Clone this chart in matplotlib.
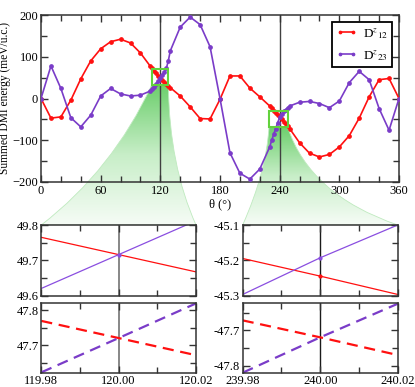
import numpy as np
import matplotlib
matplotlib.use('Agg')
import matplotlib.pyplot as plt
from matplotlib.path import Path
from matplotlib.patches import PathPatch, Rectangle
from matplotlib.colors import LinearSegmentedColormap
from matplotlib.ticker import MultipleLocator, FixedLocator, FormatStrFormatter

plt.rcParams['font.family'] = ['Liberation Serif', 'DejaVu Serif']
plt.rcParams['mathtext.fontset'] = 'stix'
plt.rcParams['font.size'] = 9

# coarse scan, every 10 degrees
theta = [0, 10, 20, 30, 40, 50, 60, 70, 80, 90, 100, 110, 120, 130, 140, 150, 160, 170, 180,
         190, 200, 210, 220, 230, 240, 250, 260, 270, 280, 290, 300, 310, 320, 330, 340, 350, 360]
d12 = [0, -47, -44, -4, 47, 90, 119, 136, 142, 133, 109, 77, 49.7, 26, 6, -20, -48, -49, -2,
       54, 54, 25, 4, -18, -45.2, -72, -106, -131, -140, -134, -116, -89, -47, 4, 45, 48, 0]
d23 = [0, 78, 24, -46, -68, -40, 6, 24, 11, 6, 8, 18, 49.7, 114, 171, 195, 177, 124, 0,
       -130, -179, -193, -169, -116, -45.2, -18, -9, -7, -12, -22, -6, 38, 65, 45, -24, -76, 0]

# fine scan around the two crossings
theta_fine = [112, 114, 116, 118, 122, 124, 126, 128,
              232, 234, 236, 238, 242, 244, 246, 248]
d12_fine = [72, 66, 61, 55, 45, 40, 35, 31,
            -23, -29, -34, -40, -50, -56, -61, -67]
d23_fine = [22, 28, 35, 42, 56, 63, 72, 90,
            -100, -86, -72, -58, -37, -31, -27, -22]

# zoomed values near 120 and 240 degrees
zoom_x1 = [119.98, 120.00, 120.02]
zoom_x2 = [239.98, 240.00, 240.02]
z1_d12_top = [49.765, 49.716, 49.667]
z1_d23_top = [49.620, 49.716, 49.812]
z1_d12_bot = [47.770, 47.721, 47.672]
z1_d23_bot = [47.623, 47.721, 47.820]
z2_d12_top = [-45.195, -45.245, -45.297]
z2_d23_top = [-45.297, -45.193, -45.100]
z2_d12_bot = [-47.672, -47.720, -47.770]
z2_d23_bot = [-47.820, -47.720, -47.625]

RED = '#ff1010'
PURPLE = '#7a3cc8'
GREEN = '#62d23c'

W, H = 415, 387
fig = plt.figure(figsize=(W / 100, H / 100), dpi=100)


def fax(x0, y0, x1, y1):
    # pixel box (top-left origin) -> figure fraction
    return [x0 / W, 1 - y1 / H, (x1 - x0) / W, (y1 - y0) / H]


# overlay for the green "zoom" fans
ov = fig.add_axes([0, 0, 1, 1], zorder=0)
ov.set_xlim(0, W)
ov.set_ylim(H, 0)
ov.axis('off')

cmap = LinearSegmentedColormap.from_list('fan', ['#6dcf6d', '#c8eec8', '#f6fcf6'])
grad = np.linspace(0, 1, 256).reshape(-1, 1)


def fan(p_left, c_left, q_left, q_right, c_right, p_right):
    verts = [p_left, c_left, q_left, q_right, c_right, p_right, p_left]
    codes = [Path.MOVETO, Path.CURVE3, Path.CURVE3, Path.LINETO,
             Path.CURVE3, Path.CURVE3, Path.CLOSEPOLY]
    path = Path(verts, codes)
    patch = PathPatch(path, facecolor='none', edgecolor='#bfeabf', lw=0.6,
                      transform=ov.transData)
    ov.add_patch(patch)
    xs = [v[0] for v in verts]
    im = ov.imshow(grad, cmap=cmap, aspect='auto', origin='upper',
                   extent=[min(xs), max(xs), q_left[1], p_left[1]])
    im.set_clip_path(patch)


fan((151.7, 85), (112.9, 169.7), (41.3, 225), (196, 225), (169.4, 166), (168.3, 85))
fan((269, 127.3), (266.3, 172), (242.7, 225), (397.7, 225), (310, 195), (287.7, 127.3))

# main panel
ax = fig.add_axes(fax(41, 15, 399, 182), zorder=1)
ax.set_facecolor('none')

th = np.concatenate([theta, theta_fine])
order = np.argsort(th)
y12 = np.concatenate([d12, d12_fine])[order]
y23 = np.concatenate([d23, d23_fine])[order]
th = th[order]

ax.axvline(120, color='0.25', lw=1, zorder=1)
ax.axvline(240, color='0.25', lw=1, zorder=1)
ax.plot(th, y12, '-o', color=RED, lw=1.2, ms=2.4, label=r'D$^{z}$$_{12}$', zorder=3)
ax.plot(th, y23, '-o', color=PURPLE, lw=1.2, ms=2.4, label=r'D$^{z}$$_{23}$', zorder=3)
ax.add_patch(Rectangle((111.3, 32.3), 16.7, 38.4, fill=False, ec=GREEN, lw=1.5, zorder=5))
ax.add_patch(Rectangle((229.3, -69), 18.8, 39, fill=False, ec=GREEN, lw=1.5, zorder=5))

ax.set_xlim(0, 360)
ax.set_ylim(-200, 200)
ax.xaxis.set_major_locator(MultipleLocator(60))
ax.xaxis.set_minor_locator(MultipleLocator(20))
ax.yaxis.set_major_locator(MultipleLocator(100))
ax.yaxis.set_minor_locator(MultipleLocator(50))
ax.set_xlabel('θ (°)', labelpad=1)
ax.set_ylabel('Summed DMI energy (meV/u.c.)', labelpad=1, fontsize=8.3)

leg = ax.legend(loc='upper right', bbox_to_anchor=(0.98, 0.958), borderaxespad=0,
                fancybox=False, framealpha=1, edgecolor='black', fontsize=9.5,
                handlelength=1.6, handletextpad=0.4, borderpad=0.3, labelspacing=0.55,
                numpoints=2, markerscale=0.7)
leg.get_frame().set_linewidth(1.3)

# zoom panels
p1t = fig.add_axes(fax(41.3, 225, 196, 295.5), zorder=1)
p1b = fig.add_axes(fax(41.3, 302.7, 196, 372.7), zorder=1)
p2t = fig.add_axes(fax(242.7, 225, 397.7, 295.5), zorder=1)
p2b = fig.add_axes(fax(242.7, 302.7, 397.7, 372.7), zorder=1)

p1t.plot(zoom_x1, z1_d12_top, '-', color=RED, lw=0.9)
p1t.plot(zoom_x1, z1_d23_top, '-', color='#8a4ee0', lw=0.9, marker='o', ms=2, markevery=[1])
p1b.plot(zoom_x1, z1_d12_bot, '--', color=RED, lw=1.6, dashes=(5, 3))
p1b.plot(zoom_x1, z1_d23_bot, '--', color=PURPLE, lw=1.6, dashes=(5, 3))
p2t.plot(zoom_x2, z2_d12_top, '-', color=RED, lw=0.9, marker='o', ms=2, markevery=[1])
p2t.plot(zoom_x2, z2_d23_top, '-', color='#8a4ee0', lw=0.9, marker='o', ms=2, markevery=[1])
p2b.plot(zoom_x2, z2_d12_bot, '--', color=RED, lw=1.6, dashes=(5, 3))
p2b.plot(zoom_x2, z2_d23_bot, '--', color=PURPLE, lw=1.6, dashes=(5, 3))

for p in (p1t, p1b):
    p.axvline(120.0, color='0.45', lw=1.2, zorder=0)
    p.set_xlim(119.98, 120.02)
    p.xaxis.set_major_locator(FixedLocator([119.98, 120.00, 120.02]))
    p.xaxis.set_minor_locator(FixedLocator([119.99, 120.01]))
for p in (p2t, p2b):
    p.axvline(240.0, color='0.1', lw=1, zorder=0)
    p.set_xlim(239.98, 240.02)
    p.xaxis.set_major_locator(FixedLocator([239.98, 240.00, 240.02]))
    p.xaxis.set_minor_locator(FixedLocator([239.99, 240.01]))

p1t.set_ylim(49.6, 49.8)
p1t.yaxis.set_major_locator(FixedLocator([49.6, 49.7, 49.8]))
p1t.yaxis.set_minor_locator(FixedLocator([49.65, 49.75]))
p1b.set_ylim(47.622, 47.822)
p1b.yaxis.set_major_locator(FixedLocator([47.7, 47.8]))
p1b.yaxis.set_minor_locator(FixedLocator([47.65, 47.75]))
p2t.set_ylim(-45.3, -45.1)
p2t.yaxis.set_major_locator(FixedLocator([-45.3, -45.2, -45.1]))
p2t.yaxis.set_minor_locator(FixedLocator([-45.25, -45.15]))
p2b.set_ylim(-47.82, -47.622)
p2b.yaxis.set_major_locator(FixedLocator([-47.8, -47.7]))
p2b.yaxis.set_minor_locator(FixedLocator([-47.75, -47.65]))

for p in (p1t, p2t):
    p.tick_params(labelbottom=False)
for p in (p1t, p2t, p1b, p2b):
    p.yaxis.set_major_formatter(FormatStrFormatter('%.1f'))
for p in (p1b, p2b):
    p.xaxis.set_major_formatter(FormatStrFormatter('%.2f'))

for a in (ax, p1t, p1b, p2t, p2b):
    a.tick_params(which='both', direction='in', top=True, right=True, labelsize=9,
                  width=1, colors='0.2', labelcolor='black', pad=2)
    a.tick_params(which='major', length=5)
    a.tick_params(which='minor', length=4)
    for s in a.spines.values():
        s.set_linewidth(1.1)
        s.set_color('0.2')

fig.savefig('out.png', dpi=100)
